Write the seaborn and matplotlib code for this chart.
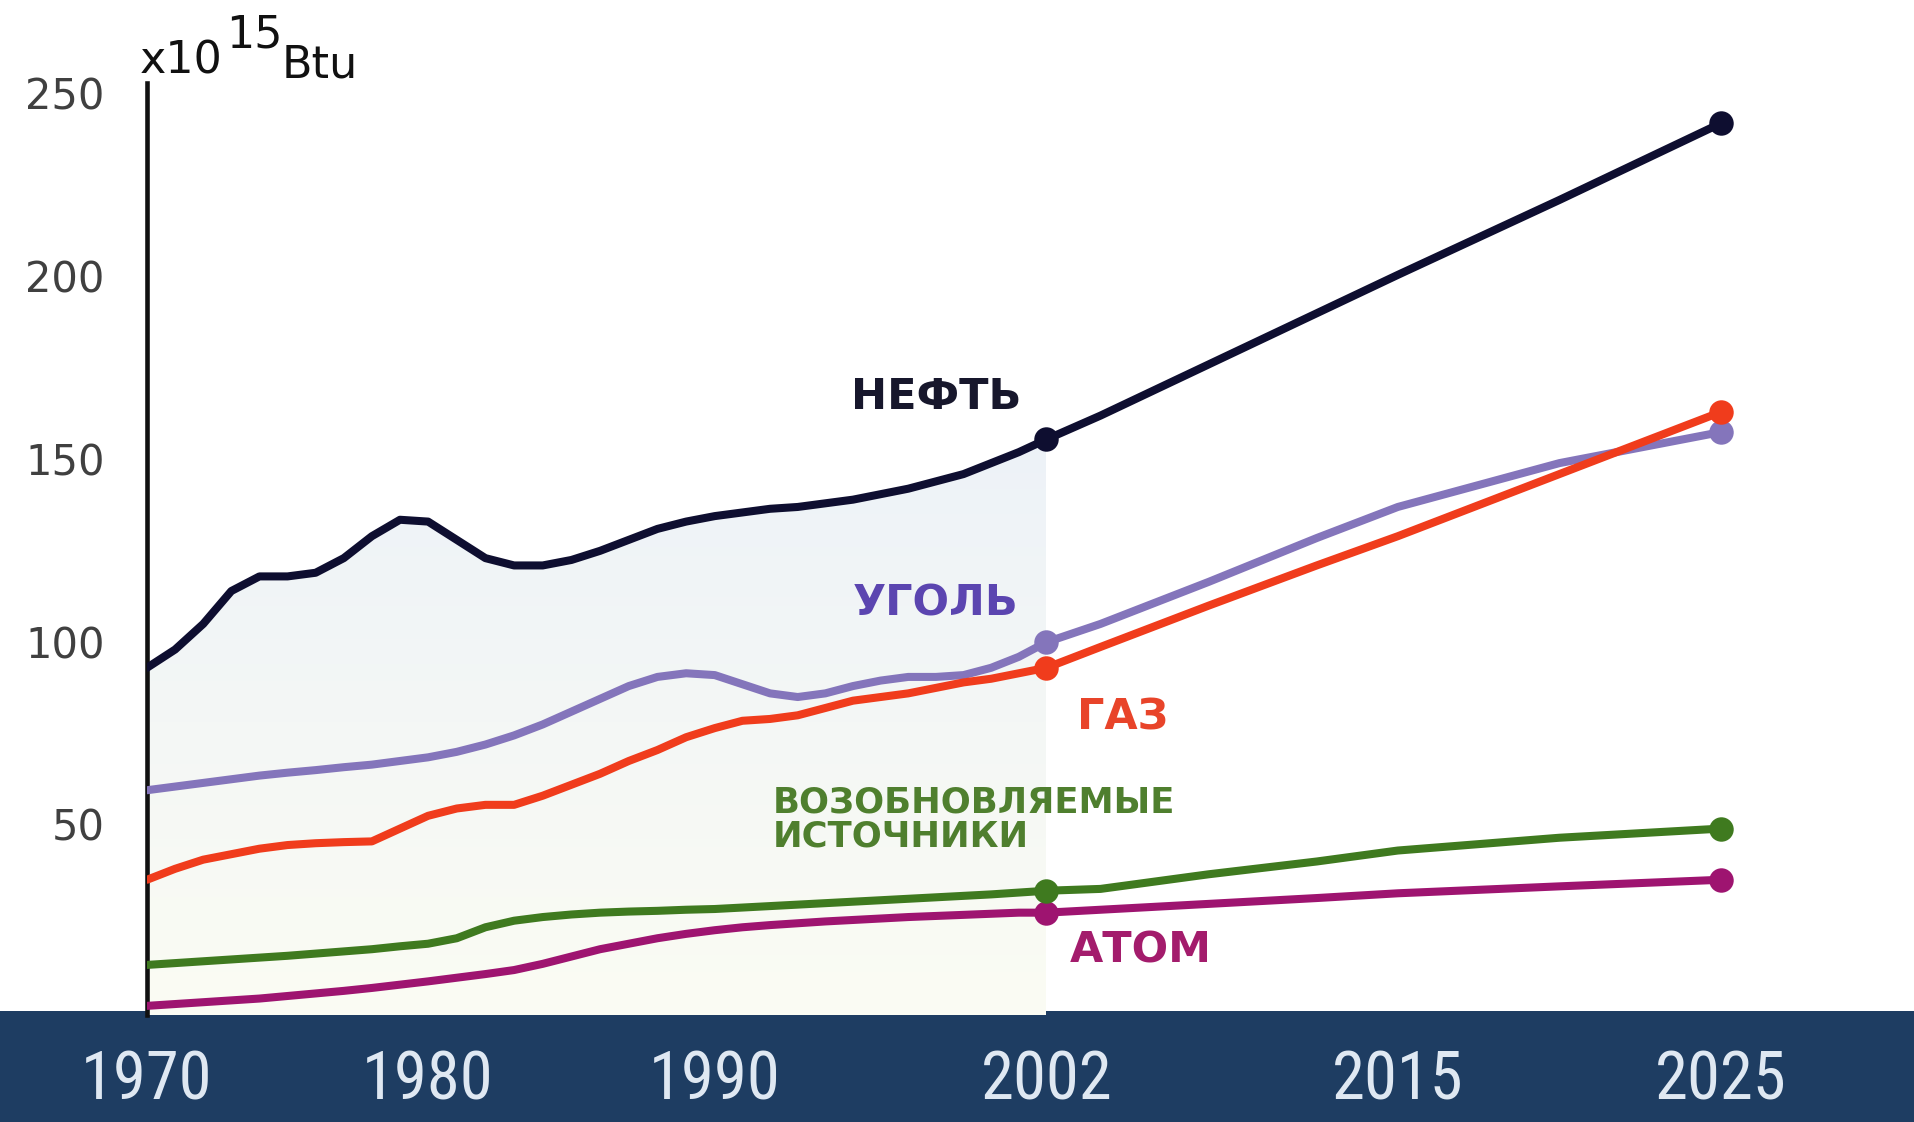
import matplotlib
matplotlib.use("Agg")
import matplotlib.pyplot as plt
import matplotlib.transforms as mtransforms
from matplotlib import font_manager
from matplotlib.colors import LinearSegmentedColormap
from matplotlib.patches import Rectangle
import numpy as np
import pandas as pd
import seaborn as sns

sns.set_style("white")
plt.rcParams["font.family"] = ["DejaVu Sans"]
plt.rcParams["lines.solid_capstyle"] = "round"
plt.rcParams["lines.solid_joinstyle"] = "round"

# ---- data (10^15 Btu) ----
hist_years = list(range(1970, 2003))
future_years = [2004, 2008, 2012, 2015, 2020, 2025]

oil_hist = [95, 100, 107, 116, 120, 120, 121, 125, 131, 135.5, 135, 130, 125,
            123, 123, 124.5, 127, 130, 133, 135, 136.5, 137.5, 138.5, 139,
            140, 141, 142.5, 144, 146, 148, 151, 154, 157.5]
oil_future = [164, 178, 192, 202.5, 223, 244]

coal_hist = [61.5, 62.5, 63.5, 64.5, 65.5, 66.3, 67, 67.8, 68.5, 69.5, 70.5,
             72, 74, 76.5, 79.5, 83, 86.5, 90, 92.5, 93.5, 93, 90.5, 88, 87,
             88, 90, 91.5, 92.5, 92.5, 93, 95, 98, 102]
coal_future = [107, 118.5, 130.5, 139, 151, 159.5]

gas_hist = [37, 40, 42.5, 44, 45.5, 46.5, 47, 47.3, 47.5, 51, 54.5, 56.5,
            57.5, 57.5, 60, 63, 66, 69.5, 72.5, 76, 78.5, 80.5, 81, 82, 84,
            86, 87, 88, 89.5, 91, 92, 93.5, 95]
gas_future = [100.7, 112, 123, 131, 148, 165]

renew_hist = [13.7, 14.2, 14.7, 15.2, 15.7, 16.2, 16.8, 17.4, 18, 18.8, 19.5,
              21, 24, 25.8, 26.8, 27.5, 28, 28.3, 28.5, 28.8, 29, 29.4, 29.8,
              30.2, 30.6, 31, 31.4, 31.8, 32.2, 32.6, 33, 33.5, 34]
renew_future = [34.5, 38.5, 42, 45, 48.5, 51]

nuclear_hist = [2.5, 3, 3.5, 4, 4.5, 5.2, 5.9, 6.6, 7.4, 8.3, 9.2, 10.2, 11.2,
                12.3, 14, 16, 18, 19.5, 21, 22.2, 23.2, 24, 24.6, 25.1, 25.6,
                26, 26.4, 26.8, 27.1, 27.4, 27.7, 28, 28]
nuclear_future = [28.8, 30.4, 32, 33.3, 35.2, 37]

tick_years = [1970, 1980, 1990, 2002, 2015, 2025]
y_ticks = [50, 100, 150, 200, 250]
marker_years = [2002, 2025]

line_colors = {
    "nuclear": "#9e1470",
    "renew": "#3f7a1f",
    "oil": "#0e0e30",
    "coal": "#8475bb",
    "gas": "#f03c1c",
}
draw_order = ["nuclear", "renew", "oil", "coal", "gas"]

series = {
    "oil": (oil_hist, oil_future),
    "coal": (coal_hist, coal_future),
    "gas": (gas_hist, gas_future),
    "renew": (renew_hist, renew_future),
    "nuclear": (nuclear_hist, nuclear_future),
}
rows = []
for name, (h, f) in series.items():
    for yr, v in zip(hist_years + future_years, h + f):
        rows.append({"source": name, "year": yr, "value": v})
df = pd.DataFrame(rows)

# the original x axis is not evenly spaced between labelled years
scale_years = [1960, 1970, 1980, 1990, 2002, 2015, 2025, 2040]
scale_pos = [-10, 0, 10, 20.2, 32.0, 44.5, 56.0, 73.25]


def forward(x):
    return np.interp(x, scale_years, scale_pos)


def inverse(p):
    return np.interp(p, scale_pos, scale_years)


# a narrow face for the year labels, if one is installed
installed = {f.name for f in font_manager.fontManager.ttflist}
narrow = None
for cand in ["Liberation Sans Narrow", "Roboto Condensed", "Open Sans Condensed",
             "Noto Sans Condensed", "DejaVu Sans Condensed", "Arial Narrow"]:
    if cand in installed:
        narrow = cand
        break
if narrow is None:
    for f in font_manager.fontManager.ttflist:
        if f.stretch in ("condensed", "semi-condensed") and f.style == "normal":
            narrow = f.name
            break
year_family = [narrow, "DejaVu Sans"] if narrow else ["DejaVu Sans"]
year_size = 48 if narrow else 39

fig = plt.figure(figsize=(19.15, 11.22), dpi=100)
W, H = 1915, 1122
ax = fig.add_axes([147 / W, (H - 1015) / H, 1 - 147 / W, (1015 - 83) / H])
ax.set_facecolor("none")
ax.set_zorder(1)
ax.set_xscale("function", functions=(forward, inverse))

# dark band at the bottom
fig.add_artist(Rectangle((0, 0), 1, 111 / H, transform=fig.transFigure,
                         facecolor="#1e3d62", edgecolor="none", zorder=0))

# soft gradient under the historical oil curve
fill = ax.fill_between(hist_years, 0, oil_hist, facecolor="none",
                       edgecolor="none")
fill_cmap = LinearSegmentedColormap.from_list("bg", ["#fbfcf3", "#edf2f8"])
grad = ax.imshow(np.linspace(0, 1, 256).reshape(-1, 1), cmap=fill_cmap,
                 origin="lower", extent=[1970, 2002, 0, 160], aspect="auto",
                 zorder=0.5)
grad.set_clip_path(fill.get_paths()[0], transform=fill.get_transform())

sns.lineplot(data=df, x="year", y="value", hue="source", hue_order=draw_order,
             palette=line_colors, linewidth=5.8, legend=False, ax=ax,
             estimator=None, sort=True, zorder=3)

markers = df[df["year"].isin(marker_years)]
for name in draw_order:
    sns.scatterplot(data=markers[markers["source"] == name], x="year",
                    y="value", color=line_colors[name], s=310, linewidth=0,
                    legend=False, ax=ax, zorder=4)

ax.set_xlim(1970, 2031)
ax.set_ylim(0, 255)
ax.set_xlabel("")
ax.set_ylabel("")

for side in ["top", "right", "bottom"]:
    ax.spines[side].set_visible(False)
ax.spines["left"].set_linewidth(3.3)
ax.spines["left"].set_color("#111111")

ax.set_yticks(y_ticks)
ax.set_yticklabels([str(v) for v in y_ticks])
ax.tick_params(axis="y", direction="inout", length=21, width=3,
               color="#111111", pad=20, labelsize=30, labelcolor="#404040")
ax.yaxis.get_major_ticks()[-1].tick1line.set_visible(False)

ax.set_xticks(tick_years)
ax.set_xticklabels([str(y) for y in tick_years])
ax.set_xticks(list(range(1972, 2025, 2)), minor=True)
ax.tick_params(axis="x", which="major", length=0, pad=25,
               labelsize=year_size, labelcolor="#dfe8f2")
ax.tick_params(axis="x", which="minor", direction="in", length=12, width=1,
               color="#d6d9dd")
for lbl in ax.get_xticklabels():
    lbl.set_fontfamily(year_family)

offset = mtransforms.ScaledTranslation(0, 8 / 100, fig.dpi_scale_trans)
for lbl in ax.get_yticklabels():
    lbl.set_transform(lbl.get_transform() + offset)

# unit label
fig.text(140 / W, 1 - 73 / H, "x10", fontsize=32, color="#111111",
         va="baseline")
fig.text(226 / W, 1 - 47 / H, "15", fontsize=32, color="#111111",
         va="baseline")
fig.text(282 / W, 1 - 77 / H, "Btu", fontsize=32, color="#111111",
         va="baseline")

# series labels
lab = dict(fontweight="bold", family=["DejaVu Sans"], zorder=5)
ax.text(1998.0, 169, "НЕФТЬ", fontsize=31, color="#17172c", ha="center",
        va="center", **lab)
ax.text(1998.0, 112.7, "УГОЛЬ", fontsize=31, color="#5b45b0", ha="center",
        va="center", **lab)
ax.text(2004.8, 81.3, "ГАЗ", fontsize=31, color="#e8442a", ha="center",
        va="center", **lab)
ax.text(1992.1, 53.5, "ВОЗОБНОВЛЯЕМЫЕ\nИСТОЧНИКИ", fontsize=25.5,
        color="#4f7f2e", ha="left", va="center", linespacing=1.0, **lab)
ax.text(2005.5, 17.7, "АТОМ", fontsize=31, color="#a31c6c", ha="center",
        va="center", **lab)

fig.savefig("out.png", dpi=100)
